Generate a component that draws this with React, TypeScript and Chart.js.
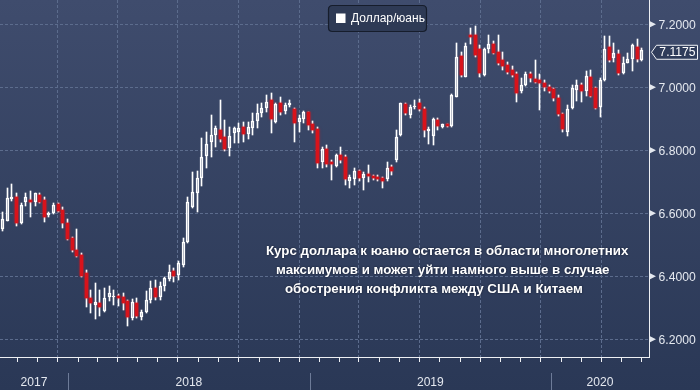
import React, { useEffect, useRef } from 'react';
import { Chart, registerables } from 'chart.js';

Chart.register(...registerables);

// ---- data (weekly candles, USD/CNY) ----
const firstWeek = '2017-09-24';

const opens = [
  6.549, 6.577, 6.644, 6.651, 6.568, 6.637, 6.642, 6.637, 6.657, 6.642, 6.594, 6.600, 6.629, 6.610, 6.568, 6.521, 6.484, 6.468, 6.409, 6.330, 6.310, 6.316, 6.291, 6.333,
  6.333, 6.337, 6.333, 6.322, 6.267, 6.314, 6.272, 6.286, 6.325, 6.362, 6.335, 6.369, 6.390, 6.417, 6.404, 6.436, 6.510, 6.621, 6.663, 6.711, 6.782, 6.827, 6.849,
  6.865, 6.841, 6.806, 6.854, 6.859, 6.873, 6.852, 6.870, 6.894, 6.917, 6.933, 6.960, 6.891, 6.949, 6.926, 6.944, 6.930, 6.891, 6.898, 6.921, 6.884, 6.867, 6.764,
  6.803, 6.764, 6.750, 6.785, 6.780, 6.704, 6.709, 6.734, 6.711, 6.724, 6.718, 6.714, 6.711, 6.708, 6.746, 6.769, 6.849, 6.946, 6.912, 6.937, 6.949, 6.930,
  6.862, 6.845, 6.896, 6.875, 6.882, 6.877, 6.970, 7.099, 7.034, 7.166, 7.166, 7.121, 7.039, 7.121, 7.138, 7.113, 7.087, 7.071, 7.055, 7.042, 6.988, 7.007, 7.041,
  7.026, 7.023, 7.015, 7.002, 6.994, 6.965, 6.915, 6.859, 6.933, 6.991, 7.007, 6.989, 7.034, 6.997, 6.936, 7.023, 7.127, 7.092, 7.106, 7.044, 7.078, 7.089, 7.127, 7.087,
];

const highs = [
  6.605, 6.679, 6.693, 6.666, 6.632, 6.666, 6.672, 6.666, 6.666, 6.653, 6.605, 6.632, 6.634, 6.621, 6.581, 6.526, 6.549, 6.473, 6.420, 6.356, 6.380, 6.356, 6.362, 6.370,
  6.357, 6.343, 6.346, 6.325, 6.328, 6.330, 6.293, 6.353, 6.385, 6.388, 6.383, 6.399, 6.436, 6.425, 6.447, 6.521, 6.653, 6.732, 6.735, 6.838, 6.859, 6.912, 6.877,
  6.960, 6.896, 6.875, 6.875, 6.888, 6.891, 6.891, 6.917, 6.947, 6.949, 6.976, 6.981, 6.951, 6.970, 6.951, 6.960, 6.933, 6.912, 6.926, 6.923, 6.894, 6.875, 6.812,
  6.817, 6.769, 6.788, 6.809, 6.785, 6.722, 6.743, 6.739, 6.732, 6.753, 6.722, 6.722, 6.716, 6.764, 6.753, 6.864, 6.951, 6.951, 6.944, 6.960, 6.962, 6.939,
  6.875, 6.904, 6.901, 6.885, 6.885, 6.979, 7.140, 7.113, 7.140, 7.187, 7.195, 7.134, 7.124, 7.166, 7.148, 7.166, 7.113, 7.081, 7.066, 7.050, 7.028, 7.050, 7.050,
  7.087, 7.042, 7.023, 7.007, 6.997, 6.976, 6.919, 6.944, 7.007, 7.023, 7.013, 7.053, 7.055, 7.002, 7.028, 7.163, 7.163, 7.140, 7.118, 7.097, 7.108, 7.137, 7.152, 7.124,
];

const lows = [
  6.545, 6.575, 6.640, 6.561, 6.566, 6.623, 6.589, 6.623, 6.634, 6.573, 6.589, 6.598, 6.605, 6.552, 6.515, 6.478, 6.462, 6.399, 6.304, 6.285, 6.263, 6.274, 6.288, 6.320,
  6.309, 6.306, 6.293, 6.242, 6.261, 6.267, 6.261, 6.283, 6.314, 6.325, 6.325, 6.354, 6.386, 6.381, 6.388, 6.431, 6.505, 6.618, 6.605, 6.687, 6.743, 6.778, 6.812,
  6.827, 6.799, 6.782, 6.824, 6.824, 6.827, 6.835, 6.849, 6.870, 6.907, 6.923, 6.856, 6.888, 6.912, 6.915, 6.939, 6.827, 6.859, 6.886, 6.865, 6.854, 6.743, 6.743,
  6.748, 6.706, 6.746, 6.761, 6.690, 6.679, 6.690, 6.704, 6.674, 6.700, 6.706, 6.704, 6.681, 6.704, 6.722, 6.764, 6.845, 6.912, 6.902, 6.930, 6.926, 6.843,
  6.820, 6.817, 6.864, 6.870, 6.873, 6.875, 6.968, 7.032, 7.032, 7.138, 7.097, 7.032, 7.036, 7.110, 7.106, 7.071, 7.055, 7.042, 7.032, 6.954, 6.983, 7.004, 7.018,
  7.015, 6.928, 6.989, 6.983, 6.958, 6.909, 6.859, 6.845, 6.930, 6.958, 6.954, 6.972, 6.968, 6.930, 6.907, 7.021, 7.081, 7.081, 7.039, 7.042, 7.076, 7.053, 7.081, 7.084,
];

const closes = [
  6.581, 6.648, 6.651, 6.570, 6.626, 6.651, 6.637, 6.663, 6.637, 6.589, 6.601, 6.626, 6.608, 6.568, 6.517, 6.484, 6.464, 6.401, 6.330, 6.316, 6.317, 6.304, 6.330, 6.346,
  6.337, 6.330, 6.316, 6.270, 6.317, 6.274, 6.286, 6.325, 6.362, 6.335, 6.369, 6.394, 6.415, 6.402, 6.443, 6.510, 6.637, 6.667, 6.711, 6.780, 6.819, 6.849, 6.870,
  6.835, 6.803, 6.845, 6.870, 6.872, 6.851, 6.875, 6.894, 6.917, 6.933, 6.952, 6.898, 6.947, 6.921, 6.944, 6.951, 6.886, 6.902, 6.923, 6.880, 6.865, 6.761, 6.803,
  6.757, 6.757, 6.785, 6.769, 6.709, 6.716, 6.734, 6.713, 6.724, 6.718, 6.713, 6.709, 6.704, 6.743, 6.735, 6.843, 6.949, 6.917, 6.937, 6.942, 6.930, 6.864,
  6.867, 6.898, 6.877, 6.882, 6.877, 6.976, 7.095, 7.039, 7.131, 7.159, 7.103, 7.044, 7.121, 7.138, 7.110, 7.076, 7.068, 7.050, 7.039, 6.983, 7.007, 7.042, 7.028,
  7.018, 7.013, 7.002, 6.989, 6.965, 6.915, 6.867, 6.930, 6.997, 7.007, 6.989, 7.036, 6.972, 6.933, 7.023, 7.121, 7.087, 7.108, 7.044, 7.078, 7.089, 7.134, 7.089, 7.1175,
];

const yTickValues = [6.2, 6.4, 6.6, 6.8, 7.0, 7.2];
const yearLabels = [2017, 2018, 2019, 2020];
const seriesName = 'Доллар/юань';
const lastValue = 7.1175;
const noteLines = [
  'Курс доллара к юаню остается в области многолетних',
  'максимумов и может уйти намного выше в случае',
  'обострения конфликта между США и Китаем',
];

// ---- helpers ----
const DAY_MS = 86400000;
const T0 = Date.parse(firstWeek + 'T00:00:00Z');
const dayOf = (y: number, m: number, d = 1) => (Date.UTC(y, m, d) - T0) / DAY_MS;

const X_MIN = -4;
const X_MAX = 977;
const Y_MIN = 6.1438;
const Y_MAX = 7.2771;

const GRID = '#5c6c8d';
const AXIS = '#eef0f4';
const TEXT = '#e4e8ef';
const RED = '#d8131b';

const monthTicks: number[] = [];
const quarterTicks = new Set<number>();
for (let y = 2017; y <= 2020; y++) {
  for (let m = 0; m < 12; m++) {
    const v = dayOf(y, m, 1);
    if (v >= X_MIN && v <= X_MAX) {
      monthTicks.push(v);
      if (m % 3 === 0) quarterTicks.add(v);
    }
  }
}

function scaledText(ctx: CanvasRenderingContext2D, text: string, x: number, y: number, font: string, color: string, align: CanvasTextAlign, sx: number) {
  ctx.save();
  ctx.translate(x, y);
  ctx.scale(sx, 1);
  ctx.font = font;
  ctx.fillStyle = color;
  ctx.textAlign = align;
  ctx.textBaseline = 'middle';
  ctx.fillText(text, 0, 0);
  ctx.restore();
}

export default function App() {
  const ref = useRef<HTMLCanvasElement | null>(null);

  useEffect(() => {
    if (!ref.current) return;
    const xs = opens.map((_, i) => i * 7);
    const upBodies: any[] = [];
    const downBodies: any[] = [];
    const upperWicks: any[] = [];
    const lowerWicks: any[] = [];
    opens.forEach((o, i) => {
      const c = closes[i];
      const top = Math.max(o, c);
      const bot = Math.min(o, c);
      if (c >= o) upBodies.push({ x: xs[i], y: [o, c] });
      else downBodies.push({ x: xs[i], y: [c, o] });
      upperWicks.push({ x: xs[i], y: [top, highs[i]] });
      lowerWicks.push({ x: xs[i], y: [lows[i], bot] });
    });

    const bgPlugin = {
      id: 'bg',
      beforeDraw(chart: any) {
        const { ctx, width, height } = chart;
        const g = ctx.createLinearGradient(0, 0, 0, height);
        g.addColorStop(0, '#3f4c6d');
        g.addColorStop(1, '#2a3856');
        ctx.save();
        ctx.fillStyle = g;
        ctx.fillRect(0, 0, width, height);
        ctx.restore();
      },
    };

    // snap candle elements to the pixel grid so the thin lines stay crisp
    const snapPlugin = {
      id: 'snap',
      beforeDatasetsDraw(chart: any) {
        chart.data.datasets.forEach((_: any, di: number) => {
          const meta = chart.getDatasetMeta(di);
          meta.data.forEach((el: any) => {
            el.x = Math.floor(el.x) + 0.5;
            el.y = Math.round(el.y);
            el.base = Math.round(el.base);
          });
        });
      },
    };

    const glowPlugin = {
      id: 'glow',
      beforeDatasetDraw(chart: any, args: any) {
        if (args.index === 1) {
          chart.ctx.save();
          chart.ctx.shadowColor = 'rgba(230,20,30,0.55)';
          chart.ctx.shadowBlur = 2.5;
        }
      },
      afterDatasetDraw(chart: any, args: any) {
        if (args.index === 1) chart.ctx.restore();
      },
    };

    const decorPlugin = {
      id: 'decor',
      afterDraw(chart: any) {
        const { ctx, chartArea: a, scales } = chart;
        const xS = scales.x;
        const yS = scales.y;
        ctx.save();
        // right axis labels with pointers
        yTickValues.forEach((v) => {
          const py = yS.getPixelForValue(v);
          ctx.beginPath();
          ctx.moveTo(a.right + 1, py - 3);
          ctx.lineTo(a.right + 7, py);
          ctx.lineTo(a.right + 1, py + 3);
          ctx.closePath();
          ctx.fillStyle = TEXT;
          ctx.fill();
          scaledText(ctx, v.toFixed(4), a.right + 9.5, py + 0.5, '13.5px "Liberation Sans", Arial, sans-serif', TEXT, 'left', 0.9);
        });
        // last value tag
        const ly = yS.getPixelForValue(lastValue) + 2;
        ctx.beginPath();
        ctx.moveTo(a.right + 2.5, ly);
        ctx.lineTo(a.right + 7.5, ly - 7);
        ctx.lineTo(697.5, ly - 7);
        ctx.lineTo(697.5, ly + 7);
        ctx.lineTo(a.right + 7.5, ly + 7);
        ctx.closePath();
        ctx.fillStyle = '#2f3c5a';
        ctx.fill();
        ctx.strokeStyle = '#f2f4f7';
        ctx.lineWidth = 1;
        ctx.stroke();
        scaledText(ctx, lastValue.toFixed(4), 677.5, ly + 0.5, '13.5px "Liberation Sans", Arial, sans-serif', '#ffffff', 'center', 0.9);

        // year separators and labels
        const bottom = chart.height;
        yearLabels.forEach((yr) => {
          const s = Math.max(dayOf(yr, 0, 1), X_MIN);
          const e = Math.min(dayOf(yr + 1, 0, 1), X_MAX);
          const ps = xS.getPixelForValue(s);
          const pe = xS.getPixelForValue(e);
          if (dayOf(yr, 0, 1) > X_MIN) {
            const px = Math.round(ps) + 0.5;
            ctx.beginPath();
            ctx.moveTo(px, a.bottom + 16);
            ctx.lineTo(px, bottom);
            ctx.strokeStyle = '#6d7b98';
            ctx.lineWidth = 1;
            ctx.stroke();
          }
          scaledText(ctx, String(yr), (ps + pe) / 2, a.bottom + 25.5, '13px "Liberation Sans", Arial, sans-serif', TEXT, 'center', 0.93);
        });

        // legend box
        const lx = 328.5, lyb = 5.5, lw = 98, lh = 26, r = 4;
        ctx.beginPath();
        ctx.moveTo(lx + r, lyb);
        ctx.lineTo(lx + lw - r, lyb);
        ctx.quadraticCurveTo(lx + lw, lyb, lx + lw, lyb + r);
        ctx.lineTo(lx + lw, lyb + lh - r);
        ctx.quadraticCurveTo(lx + lw, lyb + lh, lx + lw - r, lyb + lh);
        ctx.lineTo(lx + r, lyb + lh);
        ctx.quadraticCurveTo(lx, lyb + lh, lx, lyb + lh - r);
        ctx.lineTo(lx, lyb + r);
        ctx.quadraticCurveTo(lx, lyb, lx + r, lyb);
        ctx.closePath();
        ctx.fillStyle = '#2e3a55';
        ctx.fill();
        ctx.strokeStyle = '#161d2c';
        ctx.lineWidth = 1.2;
        ctx.stroke();
        ctx.fillStyle = '#ffffff';
        ctx.fillRect(336, 13.5, 9.5, 9.5);
        scaledText(ctx, seriesName, 351, 18.8, '12px "Liberation Sans", Arial, sans-serif', '#ffffff', 'left', 1);

        // annotation
        ctx.shadowColor = 'rgba(10,15,30,0.8)';
        ctx.shadowBlur = 2;
        const starts = [266, 276, 285];
        noteLines.forEach((t, i) => {
          scaledText(ctx, t, starts[i], 251 + i * 19, 'bold 13.3px "Liberation Sans", Arial, sans-serif', '#ffffff', 'left', 1);
        });
        ctx.restore();
      },
    };

    const common = { grouped: false, borderSkipped: false as any };

    const chart = new Chart(ref.current, {
      type: 'bar',
      data: {
        datasets: [
          { ...common, label: 'up', data: upBodies, backgroundColor: 'rgba(0,0,0,0)', borderColor: '#ffffff', borderWidth: 1, barThickness: 3, minBarLength: 1.5 },
          { ...common, label: 'down', data: downBodies, backgroundColor: RED, borderWidth: 0, barThickness: 3, minBarLength: 1.5 },
          { ...common, label: 'hi', data: upperWicks, backgroundColor: '#ffffff', borderWidth: 0, barThickness: 1 },
          { ...common, label: 'lo', data: lowerWicks, backgroundColor: '#ffffff', borderWidth: 0, barThickness: 1 },
        ] as any,
      },
      options: {
        animation: false,
        responsive: false,
        maintainAspectRatio: false,
        layout: { padding: { left: 0, right: 51, top: 0, bottom: 28 } },
        plugins: { legend: { display: false }, tooltip: { enabled: false } },
        scales: {
          x: {
            type: 'linear',
            min: X_MIN,
            max: X_MAX,
            offset: false,
            afterBuildTicks: (s: any) => {
              s.ticks = monthTicks.map((v) => ({ value: v }));
            },
            ticks: { display: false },
            grid: {
              color: (c: any) => (c.tick && quarterTicks.has(c.tick.value) ? GRID : 'rgba(0,0,0,0)'),
              tickColor: AXIS,
              tickLength: 5,
              drawTicks: true,
              lineWidth: 1,
            },
            border: { display: true, color: AXIS, width: 1, dash: [3, 2] },
          },
          y: {
            type: 'linear',
            position: 'right',
            min: Y_MIN,
            max: Y_MAX,
            afterBuildTicks: (s: any) => {
              s.ticks = yTickValues.map((v) => ({ value: v }));
            },
            ticks: { display: false },
            grid: { color: GRID, drawTicks: false, lineWidth: 1 },
            border: { display: true, color: AXIS, width: 1, dash: [3, 2] },
          },
        },
      } as any,
      plugins: [bgPlugin, snapPlugin, glowPlugin, decorPlugin],
    });
    return () => chart.destroy();
  }, []);

  return (
    <div style={{ position: 'fixed', left: 0, top: 0, width: 700, height: 390 }}>
      <canvas ref={ref} width={700} height={390} style={{ display: 'block', width: 700, height: 390 }} />
    </div>
  );
}
